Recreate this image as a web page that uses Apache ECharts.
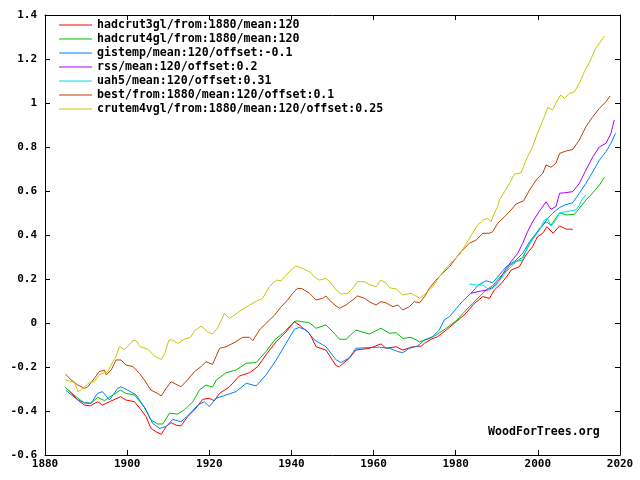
<!DOCTYPE html>
<html>
<head>
<meta charset="utf-8">
<script src="https://cdn.jsdelivr.net/npm/echarts@6/dist/echarts.min.js"></script>
<style>html,body{margin:0;padding:0;background:#fff}#c{width:640px;height:480px}</style>
</head>
<body>
<div id="c"></div>
<script>
var seriesNames = [
  'hadcrut3gl/from:1880/mean:120',
  'hadcrut4gl/from:1880/mean:120',
  'gistemp/mean:120/offset:-0.1',
  'rss/mean:120/offset:0.2',
  'uah5/mean:120/offset:0.31',
  'best/from:1880/mean:120/offset:0.1',
  'crutem4vgl/from:1880/mean:120/offset:0.25'
];
var seriesColors = ['#ff0000', '#00c000', '#0080ff', '#b000ff', '#00e0e0', '#c04000', '#c8c800'];

var hadcrut3 = [[1885,-0.294],[1886.5,-0.32],[1888,-0.35],[1889.6,-0.373],[1891,-0.377],[1892.8,-0.358],[1894,-0.373],[1895.7,-0.358],[1898.4,-0.335],[1899.7,-0.35],[1901.8,-0.358],[1903.4,-0.395],[1904.6,-0.426],[1905.8,-0.479],[1907,-0.494],[1908.3,-0.506],[1909.5,-0.471],[1910.7,-0.453],[1911.9,-0.464],[1913.1,-0.468],[1914.7,-0.426],[1916.4,-0.395],[1918.4,-0.347],[1920,-0.342],[1921.2,-0.353],[1922.5,-0.32],[1924.9,-0.29],[1927.3,-0.241],[1929.8,-0.226],[1931.8,-0.198],[1933.8,-0.145],[1936.3,-0.085],[1938.7,-0.04],[1940.7,0.006],[1941.9,-0.009],[1944.4,-0.047],[1946,-0.108],[1948.4,-0.123],[1950.9,-0.195],[1951.7,-0.198],[1954.1,-0.16],[1955.7,-0.123],[1959,-0.115],[1961.8,-0.095],[1963,-0.115],[1965.5,-0.108],[1967.1,-0.123],[1969.5,-0.108],[1971.6,-0.105],[1972.4,-0.092],[1974,-0.074],[1975.6,-0.062],[1977.7,-0.032],[1980.1,0.006],[1982.5,0.044],[1984.3,0.085],[1986.6,0.12],[1988.2,0.112],[1989.4,0.15],[1991.1,0.18],[1992.7,0.218],[1993.5,0.241],[1995.5,0.256],[1997.1,0.309],[1998.7,0.347],[1999.9,0.392],[2001.2,0.408],[2002.2,0.438],[2003.7,0.408],[2005.3,0.441],[2006.9,0.427],[2008.5,0.426]];

var hadcrut4 = [[1885,-0.294],[1888,-0.342],[1889.6,-0.364],[1891.2,-0.365],[1892.8,-0.338],[1894.5,-0.353],[1896.1,-0.332],[1898.4,-0.305],[1899.7,-0.32],[1901.8,-0.327],[1904.2,-0.383],[1905.8,-0.441],[1907.4,-0.459],[1908.7,-0.459],[1910.3,-0.41],[1912.3,-0.414],[1913.9,-0.395],[1916,-0.358],[1917.6,-0.305],[1919.2,-0.282],[1920.8,-0.292],[1921.7,-0.259],[1924.1,-0.226],[1926.5,-0.214],[1929,-0.183],[1931.4,-0.18],[1933.8,-0.13],[1935.9,-0.077],[1937.9,-0.047],[1939.9,-0.009],[1941.1,0.01],[1944.4,0.001],[1946,-0.024],[1948.4,-0.009],[1950.1,-0.04],[1951.7,-0.074],[1953.3,-0.074],[1955.7,-0.032],[1959,-0.05],[1961.8,-0.024],[1963.9,-0.047],[1965.5,-0.044],[1967.1,-0.07],[1969.1,-0.065],[1971.2,-0.085],[1973.2,-0.074],[1975.2,-0.055],[1977.7,-0.024],[1980.1,0.01],[1982.1,0.05],[1984.1,0.09],[1985.7,0.118],[1987.4,0.15],[1989,0.17],[1990.6,0.205],[1992.3,0.238],[1993.1,0.26],[1994.7,0.28],[1996.3,0.298],[1998,0.36],[2000.4,0.43],[2002,0.46],[2003.2,0.445],[2005.3,0.501],[2006.9,0.491],[2008.9,0.494],[2010.1,0.521],[2011.7,0.559],[2013.4,0.592],[2015,0.627],[2016.2,0.662]];

var gistemp = [[1885,-0.305],[1888,-0.35],[1889.6,-0.362],[1891.2,-0.365],[1892.8,-0.32],[1894,-0.312],[1895.7,-0.35],[1897.7,-0.297],[1898.5,-0.29],[1900.1,-0.305],[1902.2,-0.327],[1904.6,-0.395],[1906.2,-0.456],[1907.9,-0.479],[1909.5,-0.471],[1911.1,-0.438],[1913.1,-0.449],[1914.7,-0.423],[1917.2,-0.373],[1918.8,-0.358],[1920,-0.38],[1921.7,-0.342],[1924.1,-0.327],[1926.5,-0.312],[1929,-0.274],[1931.4,-0.286],[1933.8,-0.236],[1936.3,-0.168],[1938.7,-0.092],[1940.7,-0.029],[1941.9,-0.02],[1943.6,-0.032],[1945.6,-0.077],[1948.4,-0.108],[1950.9,-0.168],[1952.1,-0.18],[1954.1,-0.158],[1955.7,-0.115],[1958.6,-0.112],[1961.4,-0.11],[1963.9,-0.115],[1965.9,-0.13],[1967.1,-0.135],[1968.7,-0.115],[1970.7,-0.105],[1972.4,-0.077],[1974.4,-0.062],[1976,-0.032],[1977.2,0.014],[1978.5,0.029],[1980.1,0.065],[1981.7,0.1],[1983.7,0.135],[1985.5,0.172],[1987.4,0.192],[1989,0.183],[1990.6,0.218],[1992.3,0.256],[1993.5,0.271],[1994.7,0.286],[1996.3,0.317],[1998,0.37],[1999.9,0.415],[2001.2,0.445],[2002.4,0.476],[2003.6,0.499],[2005.3,0.525],[2006.5,0.536],[2008.5,0.547],[2010.1,0.59],[2011.7,0.635],[2013.4,0.688],[2015,0.741],[2016.6,0.779],[2017.8,0.817],[2018.9,0.862]];

var rss = [[1983.7,0.135],[1986,0.145],[1987.8,0.15],[1989,0.162],[1990.6,0.195],[1992.3,0.248],[1993.5,0.279],[1995.1,0.317],[1996.3,0.362],[1997.5,0.415],[1998.7,0.46],[2000.3,0.506],[2002,0.551],[2003.2,0.517],[2004.4,0.529],[2005.3,0.59],[2006.5,0.592],[2008.5,0.597],[2010.1,0.635],[2011.7,0.695],[2013.4,0.756],[2015,0.801],[2016.6,0.817],[2017.8,0.862],[2018.6,0.923]];

var uah5 = [[1983.3,0.177],[1985,0.173],[1986.6,0.173],[1988.2,0.15],[1989.4,0.162],[1991.1,0.203],[1992.3,0.233],[1993.5,0.256],[1994.7,0.279],[1996.3,0.286],[1997.5,0.347],[1999.2,0.392],[2000.4,0.423],[2001.6,0.468],[2002.4,0.476],[2003.2,0.44],[2004.4,0.468],[2005.3,0.501],[2006.9,0.506],[2009.3,0.514],[2010.1,0.536],[2010.9,0.567],[2011.7,0.582]];

var best = [[1885,-0.233],[1886.4,-0.259],[1888,-0.282],[1889.6,-0.297],[1890.4,-0.29],[1892,-0.252],[1893.2,-0.221],[1894.5,-0.214],[1894.9,-0.236],[1896.1,-0.214],[1897.3,-0.168],[1898.5,-0.168],[1899.7,-0.191],[1901.4,-0.198],[1903,-0.229],[1904.2,-0.259],[1905.8,-0.305],[1907.4,-0.32],[1908.3,-0.332],[1909.5,-0.297],[1910.7,-0.267],[1912.3,-0.282],[1913.1,-0.29],[1914.7,-0.259],[1916.4,-0.221],[1918,-0.198],[1919.2,-0.176],[1920.8,-0.188],[1922.5,-0.115],[1924.1,-0.108],[1926.5,-0.085],[1928.1,-0.065],[1929.8,-0.065],[1930.6,-0.08],[1932.2,-0.032],[1933.8,-0.002],[1935.9,0.036],[1937.5,0.074],[1939.1,0.105],[1940.3,0.135],[1941.5,0.158],[1942.7,0.155],[1944.4,0.135],[1946,0.105],[1947.6,0.112],[1948.4,0.123],[1949.2,0.105],[1950.9,0.077],[1951.7,0.067],[1953.3,0.082],[1954.9,0.105],[1956.1,0.123],[1957.8,0.112],[1959.4,0.092],[1960.6,0.082],[1961.8,0.097],[1963,0.092],[1964.7,0.074],[1965.9,0.082],[1967.1,0.059],[1968.7,0.074],[1969.9,0.097],[1971.2,0.092],[1972.4,0.12],[1973.6,0.158],[1975.2,0.195],[1976.8,0.226],[1978.5,0.256],[1979.7,0.286],[1981.3,0.324],[1983.3,0.362],[1985,0.377],[1986.6,0.408],[1988.2,0.408],[1989,0.415],[1990.2,0.453],[1991.9,0.483],[1993.5,0.514],[1994.7,0.541],[1996.5,0.555],[1998,0.605],[1999.6,0.65],[2001.2,0.68],[2002,0.718],[2003.2,0.708],[2004.4,0.726],[2005.3,0.771],[2006.9,0.782],[2008.5,0.789],[2010.1,0.832],[2011.7,0.892],[2013.4,0.938],[2015,0.976],[2016.6,1.006],[2017.6,1.032]];

var crutem4 = [[1885,-0.259],[1886,-0.264],[1887.2,-0.271],[1888,-0.312],[1888.8,-0.305],[1889.6,-0.29],[1890.8,-0.271],[1892,-0.267],[1893.2,-0.236],[1894.5,-0.226],[1895.3,-0.221],[1896.5,-0.176],[1897.3,-0.153],[1898.1,-0.108],[1899.3,-0.12],[1900.1,-0.108],[1901.4,-0.08],[1902.2,-0.08],[1903.2,-0.108],[1905,-0.118],[1906.6,-0.15],[1908.3,-0.166],[1909.1,-0.14],[1910.2,-0.077],[1911.1,-0.077],[1912.3,-0.093],[1913.9,-0.074],[1915.4,-0.066],[1916.4,-0.036],[1918,-0.014],[1919.6,-0.04],[1920.8,-0.05],[1922,-0.024],[1923.7,0.044],[1924.9,0.021],[1926.1,0.036],[1927.8,0.059],[1928.6,0.067],[1929.8,0.082],[1931.5,0.1],[1933,0.112],[1934.6,0.165],[1936.3,0.195],[1937.5,0.192],[1938.7,0.218],[1939.9,0.241],[1941.1,0.259],[1942.7,0.248],[1944.4,0.233],[1945.6,0.21],[1946.8,0.195],[1948.4,0.203],[1949.7,0.18],[1950.9,0.15],[1952.1,0.132],[1953.7,0.135],[1954.9,0.158],[1956.1,0.188],[1957.8,0.188],[1959,0.175],[1960.6,0.165],[1961.8,0.195],[1963,0.183],[1963.9,0.16],[1965.5,0.155],[1967.1,0.127],[1969.1,0.135],[1971.2,0.112],[1972.8,0.135],[1974.4,0.165],[1976,0.21],[1977.7,0.25],[1979.3,0.283],[1980.9,0.31],[1982.5,0.358],[1984.1,0.408],[1985.3,0.445],[1986.6,0.468],[1987.8,0.476],[1988.6,0.46],[1989.4,0.499],[1990.2,0.529],[1990.6,0.559],[1991.9,0.597],[1993.1,0.635],[1994.3,0.677],[1995.9,0.683],[1997.5,0.756],[1998.7,0.801],[1999.9,0.862],[2001.6,0.938],[2002.4,0.98],[2003.6,0.968],[2004.8,1.014],[2005.6,1.036],[2006.5,1.021],[2007.7,1.044],[2008.9,1.051],[2010.1,1.089],[2011.3,1.142],[2012.5,1.183],[2014.1,1.249],[2015.8,1.294],[2016.3,1.305]];

var seriesData = [hadcrut3, hadcrut4, gistemp, rss, uah5, best, crutem4];

var FONT = 'DejaVu Sans Mono';
var labelStyle = {fontFamily: FONT, fontWeight: 'bold', fontSize: 11, color: '#000'};

function axisCommon(extra) {
  var base = {
    type: 'value',
    axisLine: {show: true, onZero: false, lineStyle: {color: '#000', width: 1}},
    axisTick: {show: true, inside: true, length: 5, lineStyle: {color: '#000'}},
    splitLine: {show: false}
  };
  for (var k in extra) base[k] = extra[k];
  return base;
}

var chart = echarts.init(document.getElementById('c'), null, {renderer: 'canvas'});
chart.setOption({
  animation: false,
  backgroundColor: '#fff',
  grid: {left: 45, right: 20, top: 15, bottom: 25, containLabel: false},
  legend: {
    orient: 'vertical',
    left: 59,
    top: 19,
    padding: 0,
    itemWidth: 33,
    itemHeight: 11,
    itemGap: 2,
    icon: 'path://M0,5 L33,5 L33,6 L0,6 Z',
    textStyle: {fontFamily: FONT, fontWeight: 'bold', fontSize: 11.6, color: '#000', lineHeight: 11},
    data: seriesNames
  },
  xAxis: [
    axisCommon({position: 'bottom', min: 1880, max: 2020, interval: 20,
      axisLabel: Object.assign({margin: 4, formatter: function (v) { return String(v); }}, labelStyle)}),
    axisCommon({position: 'top', min: 1880, max: 2020, interval: 20, axisLabel: {show: false}})
  ],
  yAxis: [
    axisCommon({position: 'left', min: -0.6, max: 1.4, interval: 0.2,
      axisLabel: Object.assign({margin: 8, formatter: function (v) { return String(+v.toFixed(1)); }}, labelStyle)}),
    axisCommon({position: 'right', min: -0.6, max: 1.4, interval: 0.2, axisLabel: {show: false}})
  ],
  graphic: [{
    type: 'text', left: 488, top: 426,
    style: {text: 'WoodForTrees.org', fontFamily: FONT, fontWeight: 'bold', fontSize: 11.6, fill: '#000'}
  }],
  series: seriesNames.map(function (name, i) {
    return {
      name: name,
      type: 'line',
      xAxisIndex: 0,
      yAxisIndex: 0,
      data: seriesData[i],
      symbol: 'none',
      showSymbol: false,
      lineStyle: {color: seriesColors[i], width: 1},
      itemStyle: {color: seriesColors[i]}
    };
  })
});
</script>
</body>
</html>
